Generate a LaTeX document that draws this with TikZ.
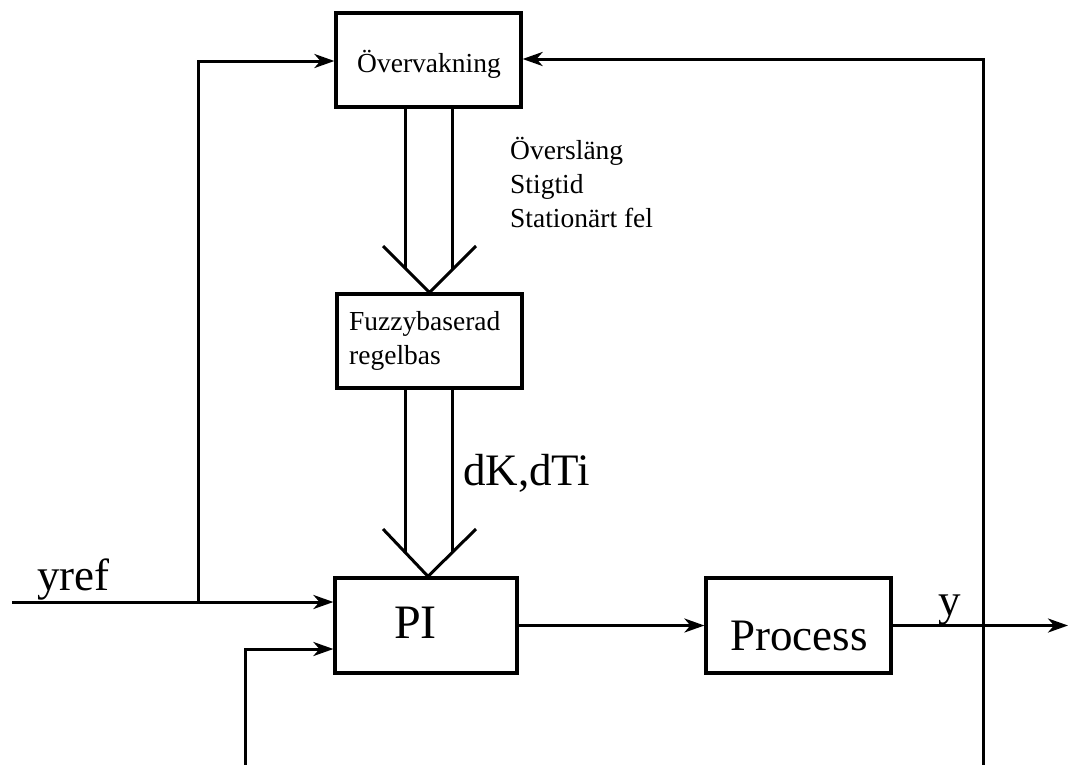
\documentclass[tikz,border=0pt]{standalone}
\usepackage{fontspec}
\setmainfont{Liberation Serif}
\usetikzlibrary{arrows.meta}
\begin{document}
\begin{tikzpicture}[x=1pt,y=-1pt,
  box/.style={draw, line width=3.2pt, inner sep=0pt},
  sm/.style={font=\fontsize{27.5}{34}\selectfont, inner sep=0pt},
  lg/.style={font=\fontsize{45}{54}\selectfont, inner sep=0pt},
  wire/.style={line width=3pt},
  arr/.style={wire, -{Stealth[length=20pt,width=14pt,inset=6pt]}},
  vee/.style={line width=3pt, line join=miter}]
\useasboundingbox[fill=white] (0,0) rectangle (1070,764);

% boxes
\node[box, minimum width=185pt, minimum height=94pt] (ov) at (428.5,60) {};
\node[box, minimum width=185pt, minimum height=94pt] (fz) at (429.5,341) {};
\node[box, minimum width=182pt, minimum height=95pt] (pi) at (426,625.5) {};
\node[box, minimum width=185pt, minimum height=95pt] (pr) at (798.5,625.5) {};

% texts
\node[sm, anchor=base] (ovt) at (429,72) {Övervakning};
\node[sm, anchor=base west] (fzt1) at (349,330) {Fuzzybaserad};
\node[sm, anchor=base west] (fzt2) at (349,364) {regelbas};
\node[sm, anchor=base west] (m1) at (510,159) {Översläng};
\node[sm, anchor=base west] (m2) at (510,193) {Stigtid};
\node[sm, anchor=base west] (m3) at (510,227) {Stationärt fel};
\node[lg, anchor=base west] (dk) at (463,485) {dK,dTi};
\node[anchor=base west, inner sep=0pt, font=\fontsize{48}{56}\selectfont] (pit) at (394,638) {PI};
\node[lg, anchor=base west] (prt) at (730,650) {Process};
\node[lg, anchor=base west] (yr) at (37,590) {yref};
\node[lg, anchor=base west] (yo) at (938,615) {y};

% coordinates
\coordinate (start) at (12,602);
\coordinate (br) at (198,602);
\coordinate (brtop) at (198,61);
\coordinate (fb1) at (245,766);
\coordinate (fbin) at (245,649);
\coordinate (fb2) at (983,766);
\coordinate (fbtop) at (983,59);
\coordinate (out) at (1068,625.5);
\coordinate (a1) at (405,269);
\coordinate (a2) at (452,269);
\coordinate (b1) at (405,552);
\coordinate (b2) at (452,552);

% main connectors
\draw[wire] (start) -- (br);
\draw[arr] (br) -- (pi.west |- br);
\draw[arr] (br) -- (brtop) -- (ov.west |- brtop);
\draw[arr] (fb1) -- (fbin) -- (pi.west |- fbin);
\draw[arr] (pi.east) -- (pr.west);
\draw[arr] (pr.east) -- (out);
\draw[arr] (fb2) -- (fbtop) -- (ov.east |- fbtop);
\draw[wire] (fb1) -- (fb2);

% double arrows
\draw[wire] (ov.south -| a1) -- (a1);
\draw[wire] (ov.south -| a2) -- (a2);
\draw[vee] (383,246) -- (fz.north) -- (476,246);
\draw[wire] (fz.south -| b1) -- (b1);
\draw[wire] (fz.south -| b2) -- (b2);
\draw[vee] (383,529) -- (pi.north -| 428,0) -- (476,529);
\end{tikzpicture}
\end{document}
